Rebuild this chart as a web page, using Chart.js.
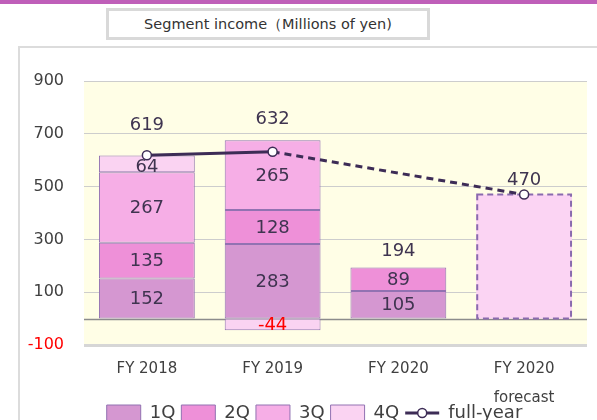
<!DOCTYPE html>
<html>
<head>
<meta charset="utf-8">
<script src="https://cdn.jsdelivr.net/npm/chart.js@4"></script>
<style>
html, body { margin: 0; padding: 0; background: #fff; overflow: hidden; }
body { width: 597px; height: 420px; position: relative; font-family: "DejaVu Sans", Verdana, sans-serif; }
#topband { position: absolute; left: 0; top: 0; width: 597px; height: 4px; background: #bf5fb9; }
#title { position: absolute; left: 106px; top: 8px; width: 318px; height: 26px; border: 3px solid #d9d9d9;
         text-align: center; font-size: 14.5px; line-height: 26px; color: #333; white-space: nowrap; }
#frame { position: absolute; left: 18px; top: 46px; width: 600px; height: 400px;
         border-left: 2px solid #dcdcdc; border-top: 2px solid #dcdcdc; }
#wrap { position: absolute; left: 20px; top: 48px; width: 577px; height: 384px; }
</style>
</head>
<body>
<div id="topband"></div>
<div id="title">Segment income（Millions of yen)</div>
<div id="frame"></div>
<div id="wrap"><canvas id="segmentIncomeChart"></canvas></div>
<script>
// values
const categories = ['FY 2018', 'FY 2019', 'FY 2020', 'FY 2020'];
const categoryNotes = ['', '', '', 'forecast'];
const q1 = [152, 283, 105, null];
const q2 = [135, 128, 89, null];
const q3 = [267, 265, null, null];
const q4 = [64, -44, null, null];
const forecast = [null, null, null, 470];
const fullYear = [619, 632, null, 470];
const totals = [619, 632, 194, 470];
const yTicks = [-100, 100, 300, 500, 700, 900];

const FONT = '"DejaVu Sans", Verdana, sans-serif';
const LINE_COLOR = '#3d2c56';
const BAR_BORDER = '#9272b2';

const decorations = {
    id: 'decorations',
    afterUpdate: (chart) => {
        // nudge the legend row a little to the right, as in the original
        const lg = chart.legend;
        lg.left += 11;
        lg.right += 11;
        lg.legendHitBoxes.forEach(h => { h.left += 11; });
    },
    beforeDraw: (chart) => {
        const ctx = chart.ctx, a = chart.chartArea;
        ctx.save();
        ctx.fillStyle = '#fffee6';
        ctx.fillRect(a.left, a.top, a.width, a.height);
        ctx.restore();
    },
    beforeDatasetsDraw: (chart) => {
        const ctx = chart.ctx, a = chart.chartArea;
        const y0 = Math.round(chart.scales.y.getPixelForValue(0)) + 0.5;
        ctx.save();
        ctx.strokeStyle = '#8c8c8c';
        ctx.lineWidth = 1.5;
        ctx.beginPath();
        ctx.moveTo(a.left, y0);
        ctx.lineTo(a.right, y0);
        ctx.stroke();
        ctx.restore();
    },
    afterDatasetDraw: (chart, args) => {
        // dashed outline of the forecast bar
        if (args.index !== 4) return;
        const ctx = chart.ctx;
        ctx.save();
        ctx.strokeStyle = '#8a6aae';
        ctx.lineWidth = 2;
        ctx.setLineDash([6, 4]);
        args.meta.data.forEach((el, i) => {
            if (forecast[i] == null) return;
            const w = el.width;
            ctx.strokeRect(el.x - w / 2 + 1, el.y, w - 2, el.base - el.y);
        });
        ctx.restore();
    },
    afterDatasetsDraw: (chart) => {
        const ctx = chart.ctx;
        ctx.save();
        ctx.font = '18px ' + FONT;
        ctx.textAlign = 'center';
        ctx.textBaseline = 'middle';
        [q1, q2, q3, q4].forEach((arr, d) => {
            chart.getDatasetMeta(d).data.forEach((el, i) => {
                if (arr[i] == null) return;
                ctx.fillStyle = arr[i] < 0 ? '#ff0000' : '#3f3450';
                const nudge = (d === 3 && i === 0) ? 3 : 1;
                ctx.fillText(String(arr[i]), el.x, (el.y + el.base) / 2 + nudge);
            });
        });
        // totals above the columns
        const offs = [30, 32, 16, 14];
        const xs = chart.getDatasetMeta(0).data;
        ctx.fillStyle = '#3f3450';
        totals.forEach((v, i) => {
            ctx.fillText(String(v), xs[i].x, chart.scales.y.getPixelForValue(v) - offs[i]);
        });
        ctx.restore();
    },
    afterDraw: (chart) => {
        const ctx = chart.ctx;
        // second caption line under the category
        ctx.save();
        ctx.font = '15px ' + FONT;
        ctx.fillStyle = '#404040';
        ctx.textAlign = 'center';
        ctx.textBaseline = 'middle';
        categoryNotes.forEach((t, i) => {
            if (!t) return;
            ctx.fillText(t, chart.scales.x.getPixelForTick(i), chart.chartArea.bottom + 53);
        });
        ctx.restore();

        // line-with-marker symbol for the full-year legend entry
        const lg = chart.legend;
        const idx = lg.legendItems.findIndex(it => it.datasetIndex === 5);
        if (idx < 0) return;
        const hb = lg.legendHitBoxes[idx];
        const cy = hb.top + hb.height / 2;
        ctx.save();
        ctx.strokeStyle = LINE_COLOR;
        ctx.lineWidth = 3;
        ctx.beginPath();
        ctx.moveTo(hb.left, cy);
        ctx.lineTo(hb.left + 34, cy);
        ctx.stroke();
        ctx.fillStyle = '#fff';
        ctx.lineWidth = 1.5;
        ctx.beginPath();
        ctx.arc(hb.left + 17, cy, 4.5, 0, Math.PI * 2);
        ctx.fill();
        ctx.stroke();
        ctx.restore();
    }
};

function barSet(label, data, color) {
    return {
        label: label,
        data: data,
        backgroundColor: color,
        borderColor: BAR_BORDER,
        borderWidth: 1,
        borderSkipped: false,
        barPercentage: 0.762,
        categoryPercentage: 1
    };
}

new Chart(document.getElementById('segmentIncomeChart'), {
    type: 'bar',
    data: {
        labels: categories,
        datasets: [
            barSet('1Q', q1, '#d597d1'),
            barSet('2Q', q2, '#ee90d8'),
            barSet('3Q', q3, '#f6aee6'),
            barSet('4Q', q4, '#fad3f2'),
            {
                label: 'forecast',
                data: forecast,
                backgroundColor: '#fbd4f3',
                borderWidth: 0,
                barPercentage: 0.762,
                categoryPercentage: 1
            },
            {
                type: 'line',
                label: 'full-year',
                data: fullYear,
                order: -1,
                stack: 'line',
                spanGaps: true,
                borderColor: LINE_COLOR,
                borderWidth: 3,
                pointRadius: 4.5,
                pointBackgroundColor: '#fff',
                pointBorderColor: LINE_COLOR,
                pointBorderWidth: 1.5,
                segment: {
                    borderDash: c => c.p1DataIndex === 3 ? [7, 5] : undefined
                }
            }
        ]
    },
    options: {
        animation: false,
        responsive: true,
        maintainAspectRatio: false,
        layout: { padding: { top: 33, right: 10, left: 0, bottom: 0 } },
        plugins: {
            tooltip: { enabled: false },
            legend: {
                position: 'bottom',
                labels: {
                    color: '#404040',
                    font: { family: FONT, size: 18 },
                    boxWidth: 34,
                    boxHeight: 16,
                    padding: 6,
                    filter: item => item.datasetIndex !== 4,
                    sort: (a, b) => a.datasetIndex - b.datasetIndex,
                    generateLabels: (chart) => {
                        const items = Chart.defaults.plugins.legend.labels.generateLabels(chart);
                        items.forEach(it => {
                            if (it.datasetIndex === 5) {
                                it.fillStyle = 'rgba(0,0,0,0)';
                                it.strokeStyle = 'rgba(0,0,0,0)';
                                it.lineWidth = 0;
                                it.lineDash = [];
                            }
                        });
                        return items;
                    }
                }
            }
        },
        scales: {
            x: {
                stacked: true,
                grid: { display: false, drawTicks: false },
                border: { display: false },
                afterFit: s => { s.height = 53; },
                ticks: {
                    color: '#404040',
                    font: { family: FONT, size: 15 },
                    padding: 15,
                    maxRotation: 0,
                    autoSkip: false
                }
            },
            y: {
                stacked: true,
                min: -100,
                max: 900,
                afterBuildTicks: s => { s.ticks = yTicks.map(v => ({ value: v })); },
                afterFit: s => { s.width = 64; },
                grid: {
                    color: c => (c.tick && c.tick.value === -100) ? '#d6d6d6' : '#cdcdcd',
                    drawTicks: false,
                    lineWidth: c => (c.tick && c.tick.value === -100) ? 3 : 1
                },
                border: { display: false },
                ticks: {
                    color: c => c.tick.value < 0 ? '#ff0000' : '#404040',
                    font: { family: FONT, size: 16 },
                    padding: 20
                }
            }
        }
    },
    plugins: [decorations]
});
</script>
</body>
</html>
